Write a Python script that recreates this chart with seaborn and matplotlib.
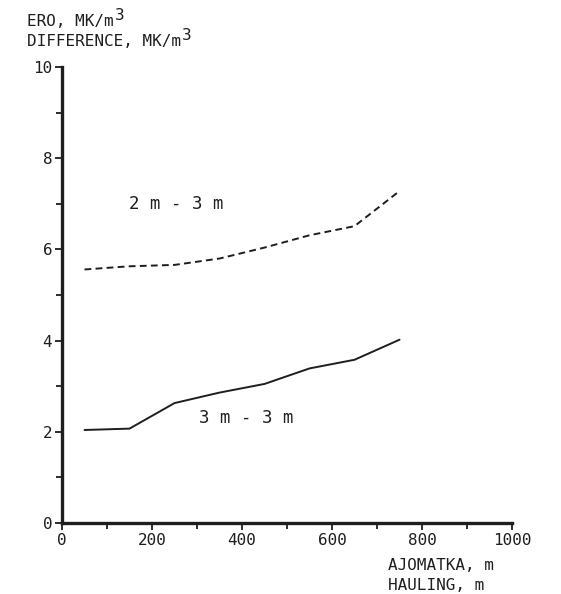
import matplotlib
matplotlib.use("Agg")
import matplotlib.pyplot as plt
import seaborn as sns
import pandas as pd
from matplotlib.ticker import MultipleLocator

hauling = [50, 150, 250, 350, 450, 550, 650, 750]
diff_2m_3m = [5.56, 5.63, 5.66, 5.80, 6.04, 6.31, 6.51, 7.28]
diff_3m_3m = [2.04, 2.07, 2.63, 2.86, 3.05, 3.39, 3.58, 4.02]
series_labels = ["2 m - 3 m", "3 m - 3 m"]
x_ticks = [0, 200, 400, 600, 800, 1000]
y_ticks = [0, 2, 4, 6, 8, 10]

df = pd.DataFrame({
    "hauling": hauling * 2,
    "value": diff_2m_3m + diff_3m_3m,
    "series": [series_labels[0]] * len(hauling) + [series_labels[1]] * len(hauling),
})

sns.set_style("white")
plt.rcParams["font.family"] = ["DejaVu Sans Mono", "DejaVu Sans"]

ink = "#1e1e1e"
W, H = 561, 594
fig = plt.figure(figsize=(5.61, 5.94), dpi=100)
ax = fig.add_axes([0.1105, 0.1195, 0.8022, 0.7677])

sns.lineplot(data=df, x="hauling", y="value", style="series",
             dashes={series_labels[0]: (3.5, 2.2), series_labels[1]: ""},
             color=ink, linewidth=1.4, legend=False, ax=ax)

ax.set_xlim(0, 1000)
ax.set_ylim(0, 10)
ax.set_xticks(x_ticks)
ax.set_yticks(y_ticks)
ax.xaxis.set_minor_locator(MultipleLocator(100))
ax.yaxis.set_minor_locator(MultipleLocator(1))
ax.tick_params(axis="both", which="both", direction="out", color=ink,
               labelsize=11.5, labelcolor=ink)
ax.tick_params(axis="both", which="major", length=5, width=1.3, pad=2)
ax.tick_params(axis="both", which="minor", length=4, width=1.3)
ax.tick_params(axis="x", which="both", bottom=True)
ax.tick_params(axis="y", which="both", left=True)
for s in ["top", "right"]:
    ax.spines[s].set_visible(False)
for s in ["left", "bottom"]:
    ax.spines[s].set_linewidth(2.4)
    ax.spines[s].set_color(ink)
ax.set_xlabel("")
ax.set_ylabel("")

ax.text(150, 7.0, series_labels[0], fontsize=12.5, color=ink, va="center", ha="left")
ax.text(305, 2.3, series_labels[1], fontsize=12.5, color=ink, va="center", ha="left")

fs = 11.5
cw = 0.602 * fs * 100 / 72  # monospace char width in px
x0 = 27
line1 = "ERO, MK/m"
line2 = "DIFFERENCE, MK/m"
y1, y2 = 22, 41
fig.text(x0 / W, 1 - y1 / H, line1, fontsize=fs, color=ink, va="center")
fig.text((x0 + len(line1) * cw + 1) / W, 1 - (y1 - 6) / H, "3", fontsize=fs, color=ink, va="center")
fig.text(x0 / W, 1 - y2 / H, line2, fontsize=fs, color=ink, va="center")
fig.text((x0 + len(line2) * cw + 1) / W, 1 - (y2 - 6) / H, "3", fontsize=fs, color=ink, va="center")
fig.text(388 / W, 1 - 565 / H, "AJOMATKA, m", fontsize=fs, color=ink, va="center")
fig.text(388 / W, 1 - 585 / H, "HAULING, m", fontsize=fs, color=ink, va="center")

fig.savefig("out.png", dpi=100, facecolor="white")
